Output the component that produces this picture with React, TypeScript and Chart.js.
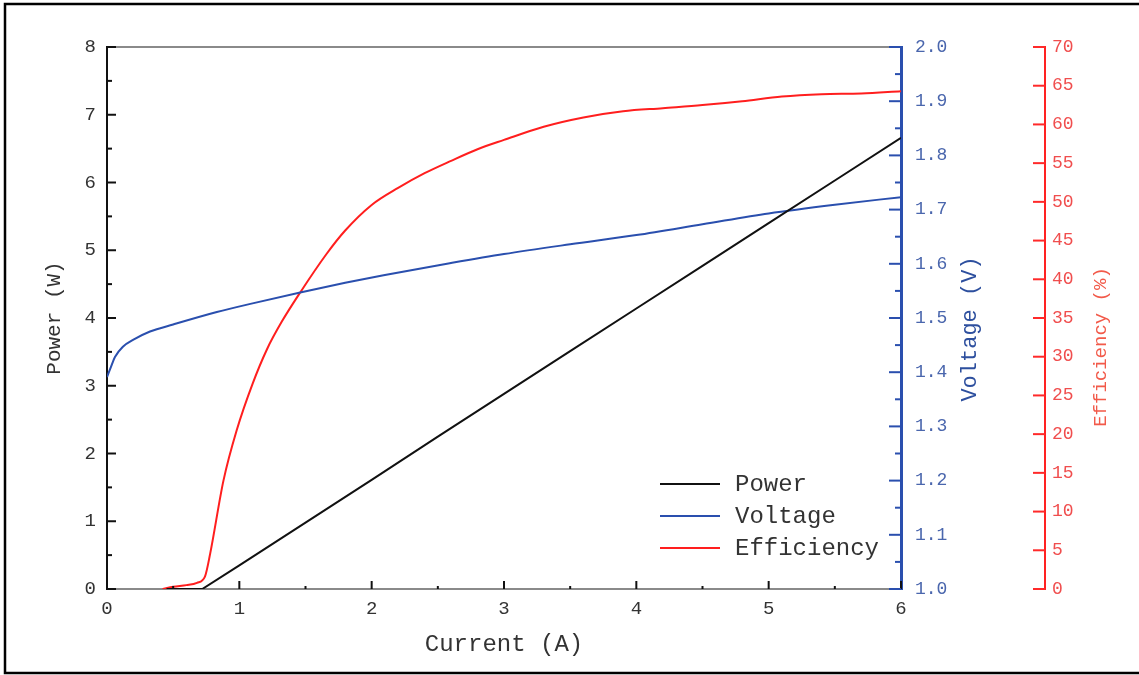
import React, { useEffect, useRef } from "react";
import { Chart, registerables } from "chart.js";
Chart.register(...registerables);

const powerCurrent = [0.45, 0.55, 0.65, 0.72, 1.0, 1.5, 2.0, 2.5, 3.0, 3.5, 4.0, 4.5, 5.0, 5.5, 6.0];
const powerValues = [0, 0, 0, 0, 0.35, 0.98, 1.61, 2.25, 2.88, 3.51, 4.14, 4.77, 5.4, 6.03, 6.66];

const voltageCurrent = [0, 0.03, 0.06, 0.12, 0.2, 0.325, 0.5, 0.83, 1.1, 1.46, 1.8, 2.09, 2.59, 3.0, 3.5, 4.0, 4.5, 5.0, 5.5, 6.0];
const voltageValues = [1.391, 1.41, 1.428, 1.447, 1.46, 1.475, 1.488, 1.511, 1.527, 1.547, 1.565, 1.579, 1.601, 1.618, 1.636, 1.653, 1.673, 1.693, 1.709, 1.723];

const effCurrent = [0.42, 0.5, 0.6, 0.68, 0.74, 0.78, 0.88, 0.98, 1.1, 1.21, 1.32, 1.46, 1.66, 1.8, 2.0, 2.2, 2.4, 2.6, 2.8, 3.0, 3.3, 3.6, 3.9, 4.2, 4.5, 4.8, 5.1, 5.4, 5.7, 6.0];
const effValues = [0, 0.3, 0.5, 0.8, 1.6, 4.6, 14, 20.5, 26.5, 31.0, 34.5, 38.3, 43.3, 46.3, 49.6, 51.8, 53.7, 55.3, 56.8, 58.0, 59.7, 60.9, 61.7, 62.1, 62.5, 63.0, 63.6, 63.9, 64.0, 64.3];

const seriesNames = ["Power", "Voltage", "Efficiency"];
const seriesColors = ["#111111", "#2a4fae", "#ff1e1e"];

const xTitle = "Current (A)";
const powerTitle = "Power (W)";
const voltageTitle = "Voltage (V)";
const effTitle = "Efficiency (%)";

const FONT = "'Liberation Mono', 'DejaVu Sans Mono', monospace";

const zip = (xs: number[], ys: number[]) => xs.map((x, i) => ({ x, y: ys[i] }));

function drawScaleTicks(ctx: CanvasRenderingContext2D, scale: any, vertical: boolean, axisPos: number, dir: number, majorLen: number, minorLen: number, color: string, width: number) {
  const vals: number[] = scale.ticks.map((t: any) => t.value);
  ctx.save();
  ctx.strokeStyle = color;
  ctx.lineWidth = width;
  const line = (v: number, len: number) => {
    const p = scale.getPixelForValue(v);
    ctx.beginPath();
    if (vertical) {
      ctx.moveTo(axisPos, p);
      ctx.lineTo(axisPos + dir * len, p);
    } else {
      ctx.moveTo(p, axisPos);
      ctx.lineTo(p, axisPos + dir * len);
    }
    ctx.stroke();
  };
  vals.forEach((v, i) => {
    line(v, majorLen);
    if (minorLen > 0 && i < vals.length - 1) line((v + vals[i + 1]) / 2, minorLen);
  });
  ctx.restore();
}

const decorPlugin = {
  id: "decor",
  afterDraw(chart: any) {
    const ctx: CanvasRenderingContext2D = chart.ctx;
    const { left, right, top, bottom } = chart.chartArea;
    const sx = chart.scales.x;
    const sy = chart.scales.y;
    const sv = chart.scales.yV;
    const se = chart.scales.yE;

    // outer frame
    ctx.save();
    ctx.strokeStyle = "#000";
    ctx.lineWidth = 2.5;
    ctx.beginPath();
    ctx.moveTo(chart.width + 2, 4);
    ctx.lineTo(5, 4);
    ctx.lineTo(5, 673);
    ctx.lineTo(chart.width + 2, 673);
    ctx.stroke();

    // top border of plot
    ctx.strokeStyle = "#8a8a8a";
    ctx.lineWidth = 2;
    ctx.beginPath();
    ctx.moveTo(left, top);
    ctx.lineTo(right, top);
    ctx.stroke();
    ctx.restore();

    drawScaleTicks(ctx, sy, true, left, 1, 9, 5, "#111", 2);
    drawScaleTicks(ctx, sx, false, bottom, -1, 8, 3, "#111", 2);
    drawScaleTicks(ctx, sv, true, sv.left, -1, 12, 6, "#2a4fae", 2);
    drawScaleTicks(ctx, se, true, se.left, -1, 12, 0, "#ff2a2a", 2);

    // right-side titles (read bottom to top)
    ctx.save();
    ctx.textAlign = "center";
    ctx.textBaseline = "middle";
    ctx.font = `22px ${FONT}`;
    ctx.fillStyle = "#2d4f9e";
    ctx.translate(sv.left + 69, (top + bottom) / 2 + 11);
    ctx.rotate(-Math.PI / 2);
    ctx.fillText(voltageTitle, 0, 0);
    ctx.restore();

    ctx.save();
    ctx.textAlign = "center";
    ctx.textBaseline = "middle";
    ctx.font = `19px ${FONT}`;
    ctx.fillStyle = "#f25a4a";
    ctx.translate(se.left + 56, (top + bottom) / 2 + 29);
    ctx.rotate(-Math.PI / 2);
    ctx.fillText(effTitle, 0, 0);
    ctx.restore();

    // legend
    ctx.save();
    ctx.font = `24px ${FONT}`;
    ctx.textBaseline = "middle";
    ctx.textAlign = "left";
    chart.data.datasets.forEach((ds: any, i: number) => {
      const y = bottom - 105 + i * 32;
      const x0 = left + 553;
      ctx.strokeStyle = ds.borderColor;
      ctx.lineWidth = 2;
      ctx.beginPath();
      ctx.moveTo(x0, y);
      ctx.lineTo(x0 + 60, y);
      ctx.stroke();
      ctx.fillStyle = "#333";
      ctx.fillText(ds.label, x0 + 75, y + 1);
    });
    ctx.restore();
  },
};

export default function App() {
  const ref = useRef<HTMLCanvasElement | null>(null);
  useEffect(() => {
    if (!ref.current) return;
    Chart.defaults.font.family = FONT;
    const chart = new Chart(ref.current, {
      type: "line",
      data: {
        datasets: [
          { label: seriesNames[0], data: zip(powerCurrent, powerValues), borderColor: seriesColors[0], borderWidth: 2, pointRadius: 0, yAxisID: "y", xAxisID: "x" },
          { label: seriesNames[1], data: zip(voltageCurrent, voltageValues), borderColor: seriesColors[1], borderWidth: 2, pointRadius: 0, yAxisID: "yV", xAxisID: "x", cubicInterpolationMode: "monotone" },
          { label: seriesNames[2], data: zip(effCurrent, effValues), borderColor: seriesColors[2], borderWidth: 2, pointRadius: 0, yAxisID: "yE", xAxisID: "x", cubicInterpolationMode: "monotone" },
        ],
      },
      options: {
        animation: false,
        responsive: false,
        devicePixelRatio: 1,
        layout: { padding: { top: 47, left: 0, right: 0, bottom: 0 } },
        plugins: { legend: { display: false }, tooltip: { enabled: false } },
        scales: {
          x: {
            type: "linear",
            position: "bottom",
            min: 0,
            max: 6,
            afterFit: (s: any) => { s.height = 86; },
            ticks: { stepSize: 1, padding: 9, color: "#333", font: { size: 19 } },
            grid: { display: false, drawTicks: false },
            border: { display: true, color: "#8a8a8a", width: 2 },
            title: { display: true, text: xTitle, color: "#333", font: { size: 24 }, padding: { top: 0, bottom: 16 } },
          },
          y: {
            type: "linear",
            position: "left",
            min: 0,
            max: 8,
            afterFit: (s: any) => { s.width = 107; },
            ticks: { stepSize: 1, padding: 11, color: "#333", font: { size: 19 } },
            grid: { display: false, drawTicks: false },
            border: { display: true, color: "#111", width: 2 },
            title: { display: true, text: powerTitle, color: "#333", font: { size: 21 }, padding: { top: 42, bottom: 0 } },
          },
          yV: {
            type: "linear",
            position: "right",
            weight: 0,
            min: 1,
            max: 2,
            afterFit: (s: any) => { s.width = 144; },
            ticks: { stepSize: 0.1, padding: 14, color: "#4a66ad", font: { size: 18 }, callback: (v: any) => Number(v).toFixed(1) },
            grid: { display: false, drawTicks: false },
            border: { display: true, color: "#2a4fae", width: 3 },
          },
          yE: {
            type: "linear",
            position: "right",
            weight: 1,
            min: 0,
            max: 70,
            afterFit: (s: any) => { s.width = 94; },
            ticks: { stepSize: 5, padding: 7, color: "#f04e4e", font: { size: 18 } },
            grid: { display: false, drawTicks: false },
            border: { display: true, color: "#ff2222", width: 2 },
          },
        },
      },
      plugins: [decorPlugin],
    } as any);
    return () => chart.destroy();
  }, []);
  return (
    <div style={{ position: "fixed", left: 0, top: 0, width: 1139, height: 675, background: "#fff" }}>
      <canvas ref={ref} width={1139} height={675} style={{ display: "block", width: 1139, height: 675 }} />
    </div>
  );
}
